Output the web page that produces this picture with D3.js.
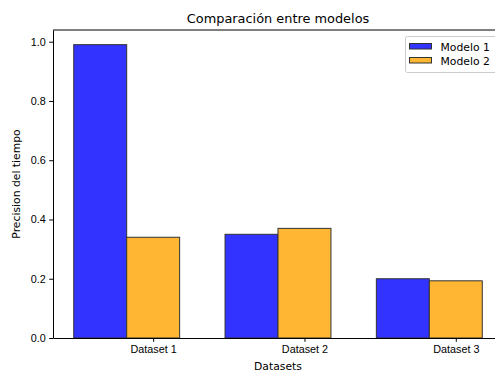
<!DOCTYPE html>
<html>
<head>
<meta charset="utf-8">
<script src="https://cdn.jsdelivr.net/npm/d3@7"></script>
<style>
  body { margin: 0; background: #fff; }
  svg { display: block; font-family: 'DejaVu Sans', sans-serif; }
</style>
</head>
<body>
<div id="chart"></div>
<script>
const categories = ['Dataset 1', 'Dataset 2', 'Dataset 3']
const series = ['Modelo 1', 'Modelo 2']
const modelo1 = [0.99, 0.35, 0.20]
const modelo2 = [0.34, 0.37, 0.193]
const yTicks = [0.0, 0.2, 0.4, 0.6, 0.8, 1.0]
const colors = ['#3333ff', '#ffb733']

const width = 495
const height = 372
const margin = { top: 30, right: -8, bottom: 34, left: 53 }
const barWidth = 0.35

const x = d3.scaleLinear()
  .domain([-0.312, 2.662])
  .range([margin.left, width - margin.right])

const y = d3.scaleLinear()
  .domain([0, 1.0395])
  .range([height - margin.bottom, margin.top])

const svg = d3.select('#chart').append('svg')
  .attr('width', width)
  .attr('height', height)

const values = [modelo1, modelo2]

values.forEach((vals, s) => {
  svg.append('g')
    .selectAll('rect')
    .data(vals).enter()
    .append('rect')
    .attr('x', (d, i) => x(i + s * barWidth - barWidth / 2))
    .attr('y', d => y(d))
    .attr('width', x(barWidth) - x(0))
    .attr('height', d => y(0) - y(d))
    .attr('fill', colors[s])
    .attr('stroke', '#333')
    .attr('stroke-width', 1)
})

const xAxis = g => g
  .attr('transform', `translate(0, ${height - margin.bottom})`)
  .call(d3.axisBottom(x)
    .tickValues(categories.map((c, i) => i + barWidth))
    .tickFormat((d, i) => categories[i])
    .tickSize(3.8)
    .tickPadding(3.5)
    .tickSizeOuter(0))
  .call(g => g.selectAll('text').attr('font-size', 10.8).attr('fill', '#000'))

const yAxis = g => g
  .attr('transform', `translate(${margin.left}, 0)`)
  .call(d3.axisLeft(y)
    .tickValues(yTicks)
    .tickFormat(d3.format('.1f'))
    .tickSize(3.8)
    .tickPadding(3.5)
    .tickSizeOuter(0))
  .call(g => g.selectAll('text').attr('font-size', 10.8).attr('fill', '#000'))

svg.append('g').call(xAxis)
svg.append('g').call(yAxis)

svg.selectAll('.domain').attr('stroke', '#000')

// top spine
svg.append('line')
  .attr('x1', margin.left).attr('x2', width - margin.right)
  .attr('y1', margin.top).attr('y2', margin.top)
  .attr('stroke', '#000')

svg.append('text')
  .attr('x', (margin.left + width - margin.right) / 2)
  .attr('y', 23)
  .attr('text-anchor', 'middle')
  .attr('font-size', 12.9)
  .text('Comparación entre modelos')

svg.append('text')
  .attr('x', (margin.left + width - margin.right) / 2)
  .attr('y', 370)
  .attr('text-anchor', 'middle')
  .attr('font-size', 10.8)
  .text('Datasets')

svg.append('text')
  .attr('transform', `translate(20, ${(margin.top + height - margin.bottom) / 2}) rotate(-90)`)
  .attr('text-anchor', 'middle')
  .attr('font-size', 10.8)
  .text('Precision del tiempo')

// legend
const legend = svg.append('g')
legend.append('rect')
  .attr('x', 405.5).attr('y', 36.5)
  .attr('width', 92).attr('height', 36)
  .attr('rx', 2)
  .attr('fill', '#fff').attr('fill-opacity', 0.8)
  .attr('stroke', '#ccc')

series.forEach((name, i) => {
  legend.append('rect')
    .attr('x', 409.5).attr('y', 43.5 + i * 14)
    .attr('width', 22).attr('height', 5.5)
    .attr('fill', colors[i])
    .attr('stroke', '#333')
  legend.append('text')
    .attr('x', 440.5).attr('y', 50.5 + i * 14)
    .attr('font-size', 10.8)
    .text(name)
})
</script>
</body>
</html>
